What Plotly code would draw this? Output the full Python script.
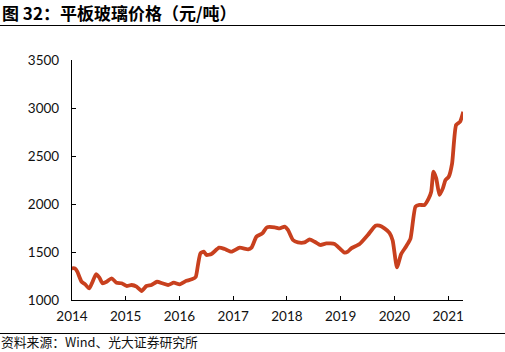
import plotly.graph_objects as go

dates = [
    "2014-01-01", "2014-01-21", "2014-02-06", "2014-03-07", "2014-03-30", "2014-04-28",
    "2014-05-21", "2014-06-13", "2014-07-05", "2014-07-28", "2014-08-24", "2014-09-27",
    "2014-10-31", "2014-12-04", "2015-01-07", "2015-02-10", "2015-03-16", "2015-04-19",
    "2015-05-22", "2015-06-25", "2015-08-02", "2015-09-08", "2015-10-16", "2015-11-24",
    "2016-01-03", "2016-02-18", "2016-03-25", "2016-04-21", "2016-05-07", "2016-05-23",
    "2016-06-15", "2016-07-03", "2016-08-06", "2016-09-27", "2016-11-04", "2016-12-20",
    "2017-02-14", "2017-04-12", "2017-05-05", "2017-06-08", "2017-07-18", "2017-08-18",
    "2017-10-10", "2017-11-13", "2017-12-17", "2018-01-08", "2018-02-11", "2018-03-17",
    "2018-05-01", "2018-06-04", "2018-07-08", "2018-08-16", "2018-09-26", "2018-11-21",
    "2018-12-25", "2019-01-28", "2019-02-19", "2019-03-14", "2019-05-10", "2019-07-05",
    "2019-08-26", "2019-09-22", "2019-10-26", "2019-11-29", "2019-12-21", "2020-01-19",
    "2020-02-17", "2020-03-22", "2020-04-20", "2020-05-24", "2020-06-20", "2020-07-24",
    "2020-08-22", "2020-09-08", "2020-09-23", "2020-10-12", "2020-11-03", "2020-11-26",
    "2020-12-14", "2021-01-05", "2021-01-28", "2021-02-24", "2021-03-23", "2021-04-14",
]
prices = [
    1330, 1330, 1295, 1190, 1165, 1120,
    1190, 1268, 1236, 1174, 1190, 1226,
    1180, 1174, 1146, 1156, 1139, 1094,
    1146, 1156, 1190, 1174, 1156, 1180,
    1163, 1200, 1215, 1240, 1372, 1486,
    1503, 1469, 1479, 1545, 1531, 1503,
    1545, 1528, 1545, 1660, 1694, 1757,
    1757, 1746, 1764, 1730, 1625, 1600,
    1600, 1632, 1607, 1573, 1590, 1583,
    1538, 1493, 1503, 1538, 1583, 1677,
    1774, 1774, 1746, 1700, 1620, 1340,
    1480, 1560, 1640, 1972, 1990, 1990,
    2059, 2128, 2337, 2267, 2094, 2163,
    2250, 2284, 2424, 2823, 2857, 2961,
]
year_ticks = ["2014-01-01", "2015-01-01", "2016-01-01", "2017-01-01",
              "2018-01-01", "2019-01-01", "2020-01-01", "2021-01-01"]
year_labels = ["2014", "2015", "2016", "2017", "2018", "2019", "2020", "2021"]

title_text = "图 32：平板玻璃价格（元/吨）"
source_text = "资料来源：Wind、光大证券研究所"

W, H = 505, 352
L, R, T, B = 72, 42, 60, 52
pw, ph = W - L - R, H - T - B

def px(x):
    return (x - L) / pw

def py(y):
    return (H - B - y) / ph

fig = go.Figure()
fig.add_trace(go.Scatter(
    x=dates, y=prices, mode="lines",
    line=dict(color="#C8401E", width=3.8, shape="spline", smoothing=0.5),
    showlegend=False, hoverinfo="skip",
))

tickfont = dict(family="Lato, 'Noto Sans', sans-serif", size=13.5, color="#111111")
fig.update_layout(
    width=W, height=H,
    margin=dict(l=L, r=R, t=T, b=B, pad=0),
    paper_bgcolor="white", plot_bgcolor="white",
    xaxis=dict(
        type="date", range=["2014-01-01", "2021-04-12"],
        tickvals=year_ticks, ticktext=year_labels,
        showgrid=False, zeroline=False,
        showline=True, linecolor="#000000", linewidth=1.2,
        ticks="inside", ticklen=4, tickcolor="#000000",
        tickfont=tickfont, ticklabelstandoff=4,
    ),
    yaxis=dict(
        range=[1000, 3500], tickvals=[1000, 1500, 2000, 2500, 3000, 3500],
        showgrid=False, zeroline=False,
        showline=True, linecolor="#000000", linewidth=1.2,
        ticks="inside", ticklen=4, tickcolor="#000000",
        tickfont=tickfont, ticklabelstandoff=9,
    ),
    shapes=[
        dict(type="line", xref="paper", yref="paper",
             x0=px(0), x1=px(W), y0=py(25.5), y1=py(25.5),
             line=dict(color="#000000", width=1.2)),
        dict(type="line", xref="paper", yref="paper",
             x0=px(0), x1=px(W), y0=py(333.5), y1=py(333.5),
             line=dict(color="#000000", width=1)),
    ],
    annotations=[
        dict(text="<b>" + title_text + "</b>", xref="paper", yref="paper",
             x=px(0), y=py(12), xanchor="left", yanchor="middle", showarrow=False,
             font=dict(family="Noto Sans CJK SC", size=17, color="#000000")),
        dict(text=source_text, xref="paper", yref="paper",
             x=px(0), y=py(351.5), xanchor="left", yanchor="bottom", showarrow=False,
             borderpad=0,
             font=dict(family="Noto Sans CJK SC", size=12.8, color="#111111")),
    ],
)

fig.write_html("out.html")
